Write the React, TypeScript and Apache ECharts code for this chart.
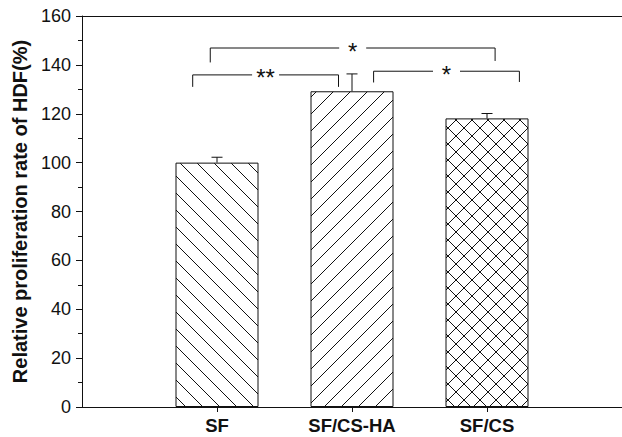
import React, { useEffect, useRef } from "react";
import * as echarts from "echarts";

// ---- data ----
const categories = ["SF", "SF/CS-HA", "SF/CS"];
const positions = [1, 2, 3];
const means = [100, 129.2, 118.1];
const errors = [2.2, 7.1, 2.0];
const hatchKinds = ["back", "forward", "cross"];
const yTicks = [0, 20, 40, 60, 80, 100, 120, 140, 160];

// significance brackets (axis units)
const bracketLeft = [0.95, 0.82, 2.16];
const bracketRight = [3.06, 1.9, 3.24];
const bracketTop = [146.9, 135.9, 137.4];
const bracketLeftEnd = [141.0, 131.0, 132.8];
const bracketRightEnd = [141.6, 131.0, 133.0];
const bracketLabels = ["*", "**", "*"];

const FONT = "'Liberation Sans', Arial, Helvetica, sans-serif";

function makeHatch(kind: string, s = 17): HTMLCanvasElement {
  const c = document.createElement("canvas");
  c.width = s;
  c.height = s;
  const ctx = c.getContext("2d")!;
  ctx.fillStyle = "#ffffff";
  ctx.fillRect(0, 0, s, s);
  ctx.strokeStyle = "#111111";
  ctx.lineWidth = 1;
  const back = () => {
    for (const k of [-s, 0, s]) {
      ctx.beginPath();
      ctx.moveTo(k, 0);
      ctx.lineTo(k + s, s);
      ctx.stroke();
    }
  };
  const fwd = () => {
    for (const k of [-s, 0, s]) {
      ctx.beginPath();
      ctx.moveTo(k, s);
      ctx.lineTo(k + s, 0);
      ctx.stroke();
    }
  };
  if (kind === "back") back();
  else if (kind === "forward") fwd();
  else {
    back();
    fwd();
  }
  return c;
}

export default function App() {
  const ref = useRef<HTMLDivElement>(null);

  useEffect(() => {
    if (!ref.current) return;
    const chart = echarts.init(ref.current, undefined, { renderer: "svg" });

    const barData = positions.map((p, i) => ({
      value: [p, means[i]],
      itemStyle: {
        color: { image: makeHatch(hatchKinds[i], hatchKinds[i] === "cross" ? 16 : 17), repeat: "repeat" },
        borderColor: "#111",
        borderWidth: 1,
      },
    }));

    const errData = positions.map((p, i) => [p, means[i], errors[i]]);
    const brData = bracketLeft.map((l, i) => [
      l,
      bracketRight[i],
      bracketTop[i],
      bracketLeftEnd[i],
      bracketRightEnd[i],
      i,
    ]);

    const lineStyle = { stroke: "#111", lineWidth: 1 };

    const option: any = {
      animation: false,
      grid: { left: 82, right: -2, top: 16, bottom: 30 },
      xAxis: [
        {
          type: "value",
          min: 0,
          max: 4,
          interval: 1,
          axisLine: { show: true, lineStyle: { color: "#111", width: 1 } },
          axisTick: { show: true, length: 5, customValues: positions, lineStyle: { color: "#111" } },
          axisLabel: {
            customValues: positions,
            formatter: (v: number) => categories[positions.indexOf(v)] ?? "",
            fontFamily: FONT,
            fontWeight: "bold",
            fontSize: 18.5,
            color: "#111",
            margin: 9,
          },
          splitLine: { show: false },
        },
        {
          type: "value",
          position: "top",
          min: 0,
          max: 4,
          axisLine: { show: true, onZero: false, lineStyle: { color: "#111", width: 1 } },
          axisTick: { show: false },
          axisLabel: { show: false },
          splitLine: { show: false },
        },
      ],
      yAxis: {
        type: "value",
        min: yTicks[0],
        max: yTicks[yTicks.length - 1],
        interval: 20,
        name: "Relative proliferation rate of HDF(%)",
        nameLocation: "middle",
        nameGap: 52,
        nameTextStyle: { fontFamily: FONT, fontWeight: "bold", fontSize: 20, color: "#111" },
        axisLine: { show: true, lineStyle: { color: "#111", width: 1 } },
        axisTick: { show: true, length: 6, lineStyle: { color: "#111" } },
        minorTick: { show: true, splitNumber: 2, length: 4, lineStyle: { color: "#111" } },
        axisLabel: { fontFamily: FONT, fontSize: 18, color: "#111", margin: 11 },
        splitLine: { show: false },
      },
      series: [
        {
          type: "bar",
          data: barData,
          barWidth: 83,
          z: 2,
        },
        {
          type: "custom",
          data: errData,
          z: 3,
          renderItem: (params: any, api: any) => {
            const x = api.value(0);
            const y = api.value(1);
            const e = api.value(2);
            const p0 = api.coord([x, y]);
            const p1 = api.coord([x, y + e]);
            const cap = 5.5;
            return {
              type: "group",
              children: [
                { type: "line", shape: { x1: p0[0], y1: p0[1], x2: p1[0], y2: p1[1] }, style: lineStyle },
                { type: "line", shape: { x1: p1[0] - cap, y1: p1[1], x2: p1[0] + cap, y2: p1[1] }, style: lineStyle },
              ],
            };
          },
        },
        {
          type: "custom",
          data: brData,
          z: 3,
          renderItem: (params: any, api: any) => {
            const l = api.value(0);
            const r = api.value(1);
            const t = api.value(2);
            const le = api.value(3);
            const re = api.value(4);
            const idx = api.value(5);
            const pl = api.coord([l, t]);
            const pr = api.coord([r, t]);
            const ple = api.coord([l, le]);
            const pre = api.coord([r, re]);
            const mid = (pl[0] + pr[0]) / 2;
            const gap = 13.5;
            return {
              type: "group",
              children: [
                { type: "line", shape: { x1: ple[0], y1: ple[1], x2: pl[0], y2: pl[1] }, style: lineStyle },
                { type: "line", shape: { x1: pl[0], y1: pl[1], x2: mid - gap, y2: pl[1] }, style: lineStyle },
                { type: "line", shape: { x1: mid + gap, y1: pr[1], x2: pr[0], y2: pr[1] }, style: lineStyle },
                { type: "line", shape: { x1: pr[0], y1: pr[1], x2: pre[0], y2: pre[1] }, style: lineStyle },
                {
                  type: "text",
                  x: mid,
                  y: pl[1] + 3,
                  style: {
                    text: bracketLabels[idx],
                    fontFamily: FONT,
                    fontSize: 24,
                    fill: "#111",
                    align: "center",
                    verticalAlign: "middle",
                  },
                },
              ],
            };
          },
        },
      ],
    };

    chart.setOption(option);
    return () => chart.dispose();
  }, []);

  return <div ref={ref} style={{ width: 622, height: 437, position: "absolute", left: 0, top: 0, background: "#fff" }} />;
}
